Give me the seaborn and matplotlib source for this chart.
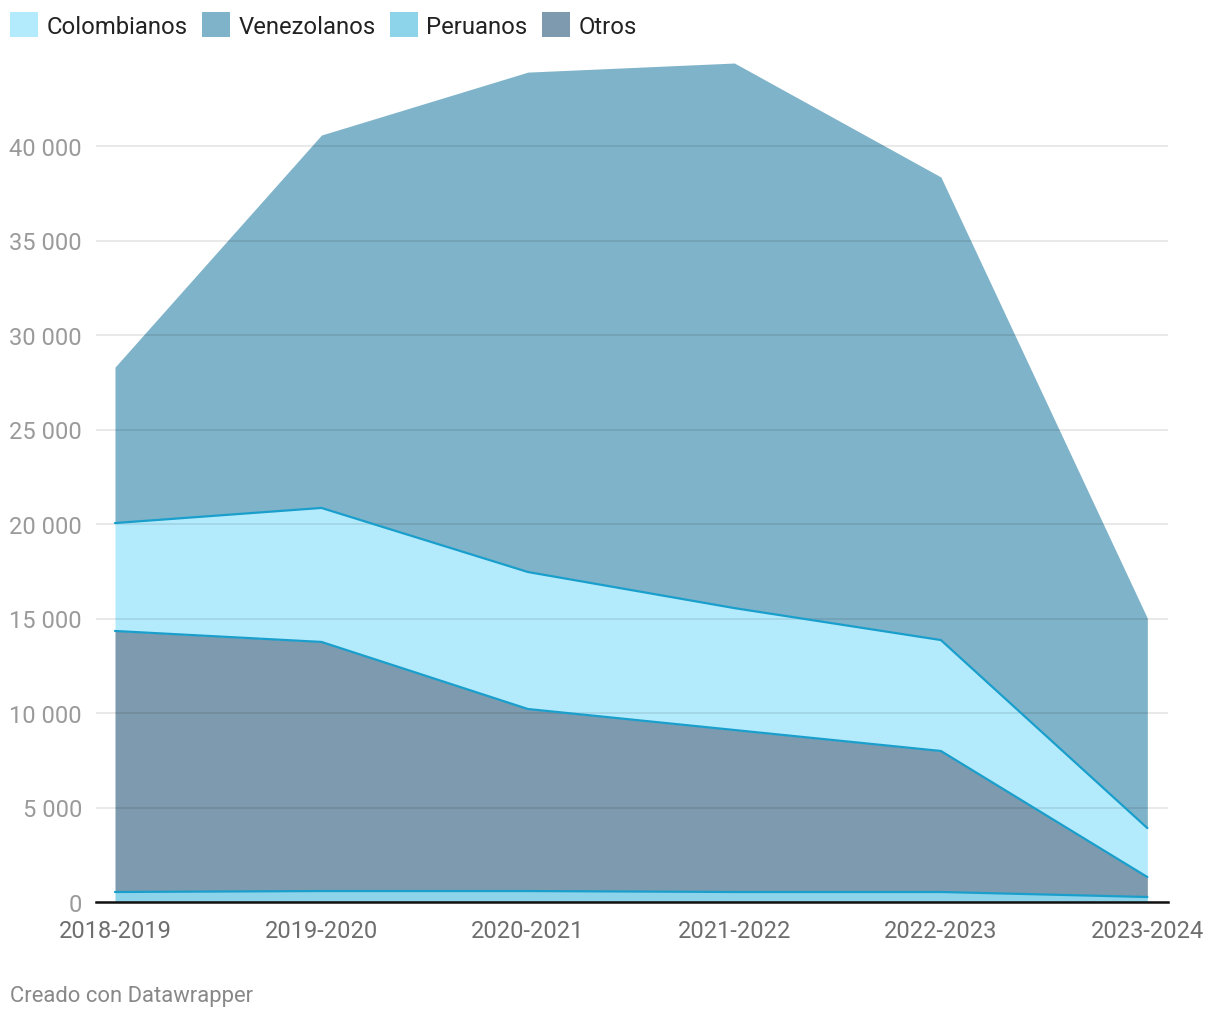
import numpy as np
import pandas as pd
import seaborn as sns
import matplotlib.pyplot as plt
from matplotlib.patches import Patch
from matplotlib.ticker import FuncFormatter

periods = ["2018-2019", "2019-2020", "2020-2021", "2021-2022", "2022-2023", "2023-2024"]
peruanos = [530, 580, 580, 530, 530, 265]
otros = [13810, 13180, 9630, 8570, 7460, 1055]
colombianos = [5710, 7090, 7250, 6450, 5870, 2590]
venezolanos = [8250, 19730, 26450, 28840, 24500, 11110]

colors = {
    "Colombianos": "#b3ebfd",
    "Venezolanos": "#7fb3c9",
    "Peruanos": "#8dd3ea",
    "Otros": "#7e9aae",
}
edge = "#1a9fcc"

sns.set_style("white")
plt.rcParams["font.family"] = ["Roboto", "DejaVu Sans"]

# stacking order bottom -> top
layers = [("Peruanos", peruanos), ("Otros", otros), ("Colombianos", colombianos), ("Venezolanos", venezolanos)]
x = np.arange(len(periods))

fig = plt.figure(figsize=(12.2, 10.2), dpi=100)
ax = fig.add_axes([96 / 1220, 1 - 903 / 1020, (1168 - 96) / 1220, (903 - 52.5) / 1020])

base = np.zeros(len(periods))
rows = []
for name, vals in layers:
    top = base + np.array(vals)
    ax.fill_between(x, base, top, color=colors[name], lw=0, zorder=1)
    if name != "Venezolanos":
        rows += [{"x": i, "y": t, "s": name} for i, t in enumerate(top)]
    base = top

df = pd.DataFrame(rows)
sns.lineplot(data=df, x="x", y="y", units="s", estimator=None, color=edge,
             lw=1.6, ax=ax, zorder=3, legend=False)

ax.set_xlim(-0.092, 5.10)
ax.set_ylim(0, 45000)
ax.set_yticks(range(0, 45000, 5000))
ax.yaxis.set_major_formatter(FuncFormatter(lambda v, p: f"{int(v):,}".replace(",", " ")))
ax.set_xticks(x)
ax.set_xticklabels(periods)
ax.grid(axis="y", color="black", alpha=0.1, lw=1.2, zorder=2)
ax.set_axisbelow(False)
for s in ["top", "right", "left"]:
    ax.spines[s].set_visible(False)
ax.spines["bottom"].set_color("#111111")
ax.spines["bottom"].set_linewidth(1.8)
ax.spines["bottom"].set_zorder(4)
ax.tick_params(axis="y", length=0, pad=10, labelsize=17, labelcolor="#9a9a9a")
ax.tick_params(axis="x", length=0, pad=12, labelsize=17, labelcolor="#6e6e6e")
ax.set_xlabel("")
ax.set_ylabel("")

handles = [Patch(facecolor=colors[n], edgecolor="none", label=n)
           for n in ["Colombianos", "Venezolanos", "Peruanos", "Otros"]]
fig.legend(handles=handles, loc="upper left", bbox_to_anchor=(10 / 1220, 1 - 13 / 1020),
           ncol=4, frameon=False, fontsize=17.2, handlelength=1.18, handleheight=1.25,
           handletextpad=0.36, columnspacing=0.58, borderpad=0, borderaxespad=0,
           labelcolor="#222222")

fig.text(10 / 1220, 1 - 997 / 1020, "Creado con Datawrapper", fontsize=15.8,
         color="#888888", va="center", ha="left")

fig.savefig("out.png", dpi=100)
